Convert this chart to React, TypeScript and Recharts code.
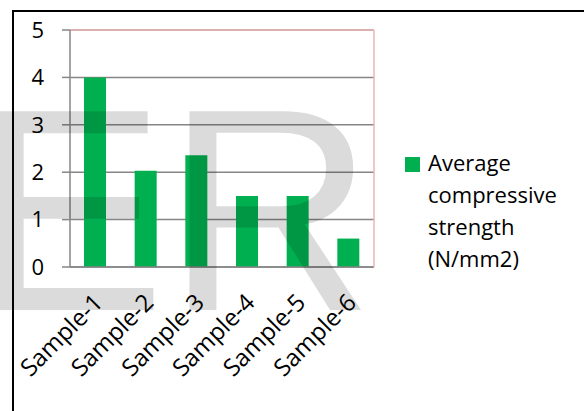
import React from "react";
import {
  BarChart,
  Bar,
  XAxis,
  YAxis,
  CartesianGrid,
  Legend,
  ReferenceLine,
} from "recharts";

const categories = ["Sample-1", "Sample-2", "Sample-3", "Sample-4", "Sample-5", "Sample-6"];
const strengthValues = [4.0, 2.03, 2.36, 1.5, 1.5, 0.6];
const yTicks = [0, 1, 2, 3, 4, 5];
const categoryEdges = [0, 1, 2, 3, 4, 5, 6];
const seriesName = "Average compressive strength (N/mm2)";
const watermark = "ER";

const FONT = "'Open Sans', sans-serif";
const BAR_COLOR = "#00B050";
const AXIS_COLOR = "#868686";
const FRAME_COLOR = "#F0B4B4";

const data = categories.map((sample, i) => ({ sample, strength: strengthValues[i] }));

const SampleTick = (props: any) => {
  const { x, y, payload } = props;
  return (
    <g transform={`translate(${x + 9},${y + 29})`}>
      <text
        x={0}
        y={0}
        textAnchor="end"
        transform="rotate(-45)"
        fontFamily={FONT}
        fontSize={24}
        fill="#000"
      >
        {payload.value}
      </text>
    </g>
  );
};

const renderLegend = (props: any) => {
  const { payload } = props;
  return (
    <div style={{ fontFamily: FONT, fontSize: 22, lineHeight: "32px", color: "#000" }}>
      {(payload || []).map((entry: any) => (
        <div key={entry.value} style={{ display: "flex", alignItems: "flex-start" }}>
          <div
            style={{
              width: 15,
              height: 15,
              marginTop: 11,
              marginRight: 8,
              background: entry.color,
              flex: "none",
            }}
          />
          <div style={{ width: 140 }}>{entry.value}</div>
        </div>
      ))}
    </div>
  );
};

export default function App() {
  return (
    <div
      style={{
        position: "absolute",
        left: 0,
        top: 0,
        width: 584,
        height: 411,
        background: "#fff",
        overflow: "hidden",
      }}
    >
      <BarChart
        width={584}
        height={411}
        data={data}
        margin={{ top: 30, right: 209, left: 10, bottom: 44 }}
      >
        <CartesianGrid vertical={false} stroke={AXIS_COLOR} strokeWidth={1.5} />
        <XAxis
          xAxisId="edges"
          type="number"
          domain={[0, 6]}
          ticks={categoryEdges}
          tick={false}
          height={0}
          axisLine={false}
          tickLine={{ stroke: AXIS_COLOR, strokeWidth: 1.5 }}
          tickSize={8}
        />
        <XAxis
          dataKey="sample"
          interval={0}
          height={100}
          tickLine={false}
          axisLine={{ stroke: AXIS_COLOR, strokeWidth: 1.5 }}
          tick={<SampleTick />}
        />
        <YAxis
          domain={[0, 5]}
          ticks={yTicks}
          width={60}
          tickSize={8}
          tickMargin={18}
          axisLine={{ stroke: AXIS_COLOR, strokeWidth: 1.5 }}
          tickLine={{ stroke: AXIS_COLOR, strokeWidth: 1.5 }}
          tick={{ fontFamily: FONT, fontSize: 22, fill: "#000" }}
        />
        <YAxis
          yAxisId="frame"
          orientation="right"
          domain={[0, 5]}
          width={1}
          tick={false}
          tickLine={false}
          axisLine={{ stroke: FRAME_COLOR, strokeWidth: 1.5 }}
        />
        <ReferenceLine y={5} stroke={FRAME_COLOR} strokeWidth={1.5} />
        <Legend
          layout="horizontal"
          align="center"
          verticalAlign="middle"
          content={renderLegend}
          wrapperStyle={{ left: 405, top: 146, width: 180 }}
        />
        <Bar
          dataKey="strength"
          name={seriesName}
          fill={BAR_COLOR}
          barSize={22}
          isAnimationActive={false}
        />
      </BarChart>
      <svg
        width={584}
        height={411}
        style={{ position: "absolute", left: 0, top: 0, pointerEvents: "none" }}
      >
        <text
          x={-27}
          y={310}
          fontFamily="'Liberation Sans', Arial, sans-serif"
          fontSize={289}
          fill="#000"
          fillOpacity={0.14}
        >
          {watermark}
        </text>
      </svg>
      <div
        style={{
          position: "absolute",
          left: 12,
          top: 10,
          right: 0,
          bottom: 0,
          borderLeft: "2px solid #000",
          borderTop: "2px solid #000",
          pointerEvents: "none",
        }}
      />
    </div>
  );
}
